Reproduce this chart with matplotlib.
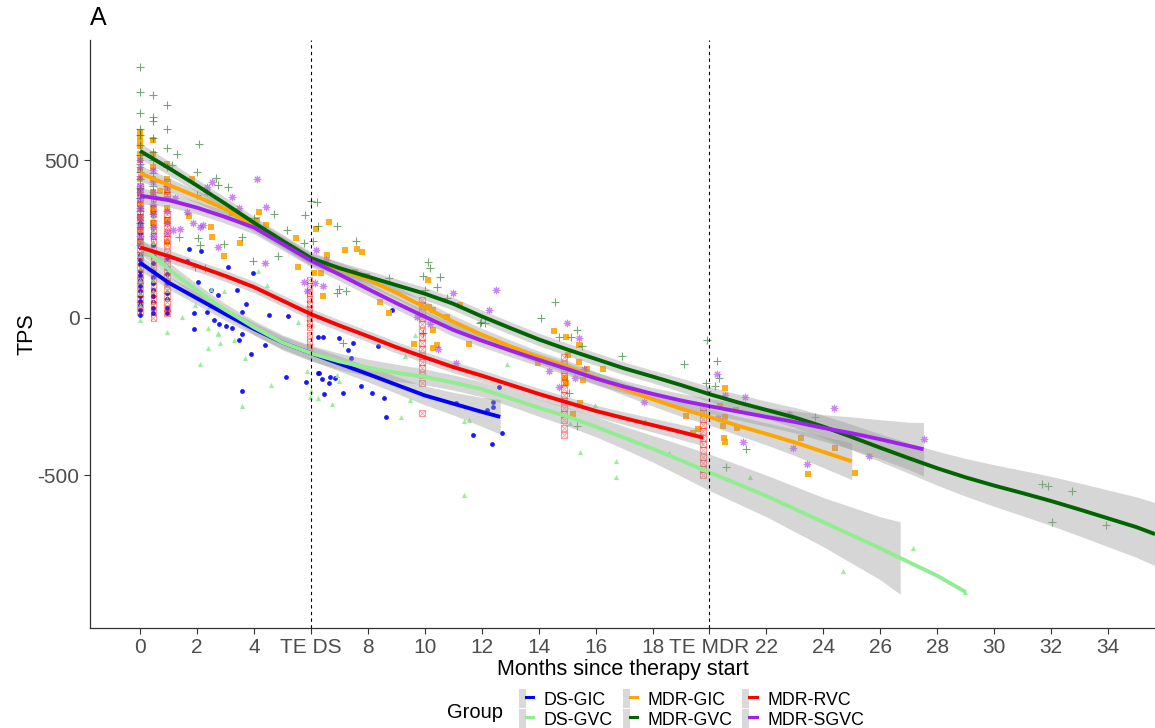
import numpy as np
import matplotlib
matplotlib.use("Agg")
import matplotlib.pyplot as plt
from matplotlib.patches import Patch
from matplotlib.lines import Line2D
from matplotlib.legend_handler import HandlerTuple

plt.rcParams['font.family'] = ['Liberation Sans', 'DejaVu Sans']
plt.rcParams['axes.unicode_minus'] = False

groups = ["DS-GIC", "DS-GVC", "MDR-GIC", "MDR-GVC", "MDR-RVC", "MDR-SGVC"]
colors = ["#0000FF", "#90EE90", "#FFA500", "#006400", "#FF0000", "#A020F0"]

# --- observations: repeated visits (month -> TPS values) + scattered points ---
ds_gic_visits = {0: [300, 270, 250, 225, 200, 185, 170, 150, 135, 120, 100, 85, 70, 55, 40, 25, 10],
                 0.47: [230, 200, 175, 150, 130, 110, 90, 70, 50, 30, 15],
                 0.93: [190, 160, 140, 110, 80, 60, 30, 15]}
ds_gic_month = [1.70, 2.14, 1.64, 3.10, 2.03, 2.49, 3.40, 3.95, 2.73, 3.72, 3.57, 4.53, 5.21, 1.91, 2.34,
                2.58, 2.77, 3.01, 3.24, 3.49, 1.91, 3.57, 4.39, 3.89, 5.14, 3.57, 5.82, 6.24, 6.45, 6.26,
                8.86, 6.44, 6.97, 7.49, 7.32, 7.41, 8.34, 6.27, 6.38, 6.67, 6.83, 6.62, 7.14, 7.76, 8.14,
                8.57, 8.64, 11.1, 12.18, 11.7, 12.35, 12.7, 12.59, 12.41, 12.41]
ds_gic_tps = [218, 211, 181, 163, 115, 89, 89, 144, 73, 43, 20, 10, 6, 15, 20,
              -8, -19, -25, -33, -70, -36, -51, -86, -114, -186, -231, -202, -176, -242, -59,
              25, -61, -65, -80, -102, -128, -89, -176, -195, -188, -191, -207, -237, -216, -237,
              -255, -313, -271, -292, -371, -401, -364, -220, -266, -282]

ds_gvc_visits = {0: [350, 300, 260, 230, 200, 160, 120, 80, 40, -5],
                 0.47: [320, 280, 240, 200, 160, 120, 85, 50],
                 0.93: [250, 200, 130, 90, 60, -45]}
ds_gvc_month = [1.46, 2.49, 2.96, 2.46, 1.93, 2.75, 2.38, 2.11, 2.38, 3.31, 3.69, 3.57, 4.6, 5.85, 5.97,
                6.24, 4.45, 4.13, 5.54, 2.72, 2.79, 5.99, 6.73, 6.97, 6.91, 9.16, 9.48, 9.66, 11.36,
                11.38, 11.57, 12.88, 9.31, 15.45, 16.72, 16.72, 18.59, 15.1, 15.98, 17.74, 21.43,
                24.7, 27.14, 28.98]
ds_gvc_tps = [4, 91, 86, 38, 41, -49, -33, -146, -96, -70, -128, -279, -213, -170, -252,
              -255, 105, 150, -12, -51, -78, -231, -273, -199, -181, -315, -260, -54, -562,
              -326, -324, -146, -121, -424, -454, -506, -428, -332, -276, -327, -504,
              -803, -731, -870]

mdr_gic_visits = {0: [590, 575, 560, 545, 520, 500, 470, 440, 400, 360, 320, 280, 240],
                  0.47: [565, 520, 480, 440, 400, 350, 335, 300],
                  0.93: [490, 440, 400, 350, 310, 240]}
mdr_gic_month = [1.81, 0.7, 1.7, 2.49, 2.54, 3.22, 4.19, 4.10, 4.42, 3.51, 2.96, 5.47, 5.54, 6.65, 6.18,
                 7.2, 7.61, 7.79, 6.58, 6.35, 6.44, 6.11, 7.55, 7.96, 8.43, 8.75, 10.13, 10.16, 10.3,
                 10.28, 10.42, 10.3, 9.62, 10.77, 11.22, 11.57, 14.54, 14.96, 15.04, 15.43, 13.99,
                 15.69, 16.27, 14.92, 14.96, 15.45, 15.2, 15.55, 15.4, 20.55, 20.37, 20.55, 20.49,
                 20.95, 20.93, 20.51, 20.55, 19.58, 19.41, 19.18, 23.23, 24.41, 23.47, 25.11]
mdr_gic_tps = [441, 403, 322, 288, 258, 334, 337, 311, 295, 237, 197, 253, 163, 306, 282,
               214, 218, 210, 200, 142, 70, 142, 147, 133, 52, 15, 121, 36, 25,
               -38, -86, -96, -83, 4, 41, -83, -43, -59, -117, -139, -144,
               -163, -163, -191, -205, -269, -305, -197, -86, -221, -279, -315, -343,
               -350, -292, -382, -393, -354, -364, -311, -382, -414, -495, -491]

mdr_gvc_visits = {0: [795, 716, 650, 600, 581, 550, 517, 490, 464, 440, 411, 380, 340, 300],
                  0.47: [706, 639, 625, 570, 528, 500, 460, 420, 380],
                  0.93: [676, 600, 540, 480, 420]}
mdr_gvc_month = [2.07, 1.29, 1.11, 1.99, 2.66, 2.75, 3.1, 1.99, 1.35, 2.05, 2.11, 2.96, 1.93, 2.28, 4.01,
                 3.98, 4.72, 5.17, 4.86, 3.57, 6.0, 6.2, 5.8, 6.26, 6.93, 5.77, 6.09, 7.59, 6.91, 7.24,
                 7.0, 8.76, 10.13, 10.19, 9.93, 10.54, 10.42, 10.0, 10.77, 11.96, 7.14, 9.95, 14.58,
                 14.09, 14.73, 15.36, 15.13, 15.51, 16.92, 15.08, 15.34, 11.94, 12.12, 19.93, 19.09,
                 20.28, 20.35, 19.88, 20.2, 19.93, 23.71, 21.28, 20.58, 31.69, 31.88, 32.75, 32.04, 33.92]
mdr_gvc_tps = [551, 519, 486, 464, 445, 422, 417, 390, 258, 253, 232, 234, 163, 158, 316,
               181, 329, 279, 195, 258, 372, 369, 327, 292, 292, 239, 243, 243, 80, 84,
               91, 126, 176, 158, 133, 129, 97, 90, 62, -12, -81, -47, 49,
               -1, -59, -38, -62, -89, -121, -239, -343, -15, -15, -70, -146,
               -136, -191, -205, -216, -231, -315, -417, -472, -527, -533, -548, -648, -657]

mdr_rvc_visits = {0: [420, 400, 380, 360, 340, 320, 300, 280, 260, 240, 220, 200, 180, 160, 140, 120,
                      100, 80, 60, 40, 20],
                  0.47: [380, 350, 330, 300, 280, 260, 240, 220, 200, 180, 160, 140, 120, 100, 80, 60,
                         40, 20, 0],
                  0.93: [430, 410, 390, 330, 310, 290, 270, 250, 230, 210, 190, 170, 150, 130, 110, 90,
                         70, 50, 30, 16],
                  5.95: [120, 100, 80, 60, 45, 30, 15, 0, -15, -30, -55, -75, -92],
                  9.9: [57, 40, 20, 0, -20, -40, -60, -80, -100, -120, -140, -160, -180, -206, -302],
                  14.9: [-123, -145, -165, -185, -205, -225, -245, -265, -285, -305, -325, -350, -371],
                  19.78: [-282, -300, -320, -340, -360, -380, -400, -420, -440, -460, -480, -498]}
mdr_rvc_month = []
mdr_rvc_tps = []

mdr_sgvc_visits = {0: [500, 480, 450, 420, 401, 380, 350, 320, 290, 260, 230],
                   0.47: [470, 430, 400, 360, 330, 290, 260],
                   0.93: [420, 380, 340, 300, 270]}
mdr_sgvc_month = [2.52, 2.34, 2.34, 4.1, 3.24, 3.48, 4.42, 1.64, 1.87, 2.11, 2.2, 1.4, 1.17, 2.73, 4.37,
                  1.23, 6.18, 6.53, 5.76, 5.88, 6.15, 6.44, 9.71, 10.19, 10.48, 10.98, 11.1, 12.24,
                  12.5, 15.01, 15.4, 14.37, 14.73, 15.28, 15.6, 17.7, 20.28, 20.55, 21.25, 20.31,
                  21.17, 22.81, 22.92, 24.39, 23.44, 25.62, 27.52]
mdr_sgvc_tps = [430, 417, 401, 440, 385, 348, 353, 337, 301, 290, 295, 283, 279, 226, 174,
                380, 214, 184, 115, 87, 110, 102, 4, -19, -99, 80, -144, 25,
                89, -17, -65, -170, -220, -191, -163, -266, -178, -244, -250, -318,
                -393, -305, -412, -287, -464, -438, -384]

# --- smoothed trend per group: months, fit, half-width of band ---
ds_gic_fit_m = [0, 1, 2, 3, 4, 5, 6, 7, 8, 9, 10, 11, 12, 12.65]
ds_gic_fit = [175, 112, 62, 12, -35, -78, -112, -145, -178, -212, -246, -272, -298, -314]
ds_gic_se = [25, 20, 20, 20, 20, 20, 22, 24, 25, 27, 30, 36, 46, 55]

ds_gvc_fit_m = [0, 0.5, 1, 1.5, 2, 2.5, 3, 3.5, 4, 5, 6, 7, 8, 9, 10, 11, 12, 13, 14, 15, 16, 17, 18,
                19, 20, 22, 24, 26, 26.7, 28, 29]
ds_gvc_fit = [228, 192, 155, 120, 88, 55, 25, -2, -30, -78, -112, -138, -158, -174, -187, -205, -226,
              -255, -285, -313, -345, -380, -415, -452, -490, -565, -648, -731, -762, -818, -870]
ds_gvc_se = [25, 24, 23, 22, 20, 20, 20, 20, 22, 24, 25, 26, 27, 27, 25, 24, 24, 25, 27, 30, 32, 36,
             42, 50, 58, 66, 78, 100, 115]

mdr_gic_fit_m = [0, 1, 2, 3, 4, 5, 6, 7, 8, 9, 10, 11, 12, 13, 14, 15, 16, 17, 18, 19, 20, 21, 22, 23,
                 24, 25]
mdr_gic_fit = [459, 422, 385, 345, 293, 241, 186, 156, 122, 80, 34, -12, -53, -90, -125, -155, -190,
               -225, -258, -288, -314, -342, -368, -395, -425, -455]
mdr_gic_se = [25, 22, 20, 20, 20, 20, 20, 20, 20, 20, 20, 20, 20, 20, 20, 20, 20, 20, 22, 24, 26, 30,
              35, 42, 50, 58]

mdr_gvc_fit_m = [0, 1, 2, 3, 4, 5, 6, 7, 8, 9, 10, 11, 12, 13, 14, 15, 16, 17, 18, 19, 20, 21, 22, 23,
                 24, 25, 26, 27, 28, 29, 30, 31, 32, 33, 34, 35, 35.65]
mdr_gvc_fit = [530, 476, 420, 362, 302, 245, 190, 158, 131, 104, 77, 45, 5, -32, -68, -100, -130, -160,
               -186, -213, -242, -268, -292, -316, -345, -378, -412, -445, -477, -506, -532, -556,
               -581, -608, -636, -664, -686]
mdr_gvc_se = [25, 22, 20, 20, 20, 20, 20, 20, 20, 20, 20, 20, 20, 20, 20, 20, 20, 20, 20, 22, 24, 26,
              28, 32, 36, 40, 44, 48, 54, 60, 66, 72, 78, 84, 90, 96, 100]

mdr_rvc_fit_m = [0, 1, 2, 3, 4, 5, 6, 7, 8, 9, 10, 11, 12, 13, 14, 15, 16, 17, 18, 19, 19.78]
mdr_rvc_fit = [224, 196, 165, 133, 98, 55, 12, -24, -58, -93, -125, -156, -183, -212, -241, -268,
               -295, -318, -340, -362, -380]
mdr_rvc_se = [22, 20, 18, 18, 18, 18, 18, 18, 18, 18, 18, 18, 18, 18, 18, 18, 18, 20, 22, 24, 26]

mdr_sgvc_fit_m = [0, 1, 2, 3, 4, 5, 6, 7, 8, 9, 10, 11, 12, 13, 14, 15, 16, 17, 18, 19, 20, 21, 22, 23,
                  24, 25, 26, 27, 27.52]
mdr_sgvc_fit = [388, 374, 350, 320, 287, 235, 182, 138, 92, 47, 4, -38, -72, -103, -133, -162, -192,
                -218, -241, -262, -280, -297, -314, -330, -349, -366, -385, -406, -417]
mdr_sgvc_se = [25, 22, 20, 20, 20, 20, 20, 20, 20, 20, 20, 20, 20, 20, 20, 20, 20, 20, 20, 22, 24, 27,
               30, 35, 42, 52, 62, 75, 85]

tick_pos = list(range(0, 35, 2))
tick_lab = [str(t) for t in tick_pos]
tick_lab[3] = "TE DS"
tick_lab[10] = "TE MDR"
te_lines = [6, 20]

visits = [ds_gic_visits, ds_gvc_visits, mdr_gic_visits, mdr_gvc_visits, mdr_rvc_visits, mdr_sgvc_visits]
months = [ds_gic_month, ds_gvc_month, mdr_gic_month, mdr_gvc_month, mdr_rvc_month, mdr_sgvc_month]
tps = [ds_gic_tps, ds_gvc_tps, mdr_gic_tps, mdr_gvc_tps, mdr_rvc_tps, mdr_sgvc_tps]
fits = [(ds_gic_fit_m, ds_gic_fit, ds_gic_se), (ds_gvc_fit_m, ds_gvc_fit, ds_gvc_se),
        (mdr_gic_fit_m, mdr_gic_fit, mdr_gic_se), (mdr_gvc_fit_m, mdr_gvc_fit, mdr_gvc_se),
        (mdr_rvc_fit_m, mdr_rvc_fit, mdr_rvc_se), (mdr_sgvc_fit_m, mdr_sgvc_fit, mdr_sgvc_se)]

fig = plt.figure(figsize=(11.55, 7.28), dpi=100)
ax = fig.add_axes([90 / 1155, 1 - 628 / 728, 1 - 90 / 1155, (628 - 40) / 728])

for i, g in enumerate(groups):
    xs, ys = [], []
    for m, vals in visits[i].items():
        xs += [m] * len(vals)
        ys += vals
    xs += months[i]
    ys += tps[i]
    c = colors[i]
    if g == "DS-GIC":
        ax.scatter(xs, ys, s=12, marker="o", color=c, alpha=0.9, linewidths=0)
    elif g == "DS-GVC":
        ax.scatter(xs, ys, s=14, marker="^", color=c, alpha=0.9, linewidths=0)
    elif g == "MDR-GIC":
        ax.scatter(xs, ys, s=14, marker="s", color=c, alpha=0.9, linewidths=0)
    elif g == "MDR-GVC":
        ax.scatter(xs, ys, s=28, marker="+", color=c, alpha=0.55, linewidths=0.8)
    elif g == "MDR-RVC":
        ax.scatter(xs, ys, s=18, marker="s", facecolors="none", edgecolors=c, alpha=0.4, linewidths=0.8)
        ax.scatter(xs, ys, s=14, marker="x", color=c, alpha=0.4, linewidths=0.6)
    else:
        ax.scatter(xs, ys, s=22, marker=(8, 2, 0), color=c, alpha=0.55, linewidths=0.8)

for i, g in enumerate(groups):
    fm, fv, se = fits[i]
    n = len(se)
    lo = np.array(fv[:n]) - np.array(se)
    hi = np.array(fv[:n]) + np.array(se)
    ax.fill_between(fm[:n], lo, hi, color="#999999", alpha=0.4, linewidth=0)
    ax.plot(fm, fv, color=colors[i], lw=2.8, solid_capstyle="butt")

for t in te_lines:
    ax.axvline(t, color="black", lw=0.8, ls=(0, (3, 3)))

ax.set_xlim(-1.76, 35.65)
ax.set_ylim(-984, 882)
ax.set_xticks(tick_pos)
ax.set_xticklabels(tick_lab)
ax.set_yticks([-500, 0, 500])
ax.tick_params(labelsize=15, labelcolor="#4D4D4D", color="#333333", length=4, width=0.8)
for s in ["top", "right"]:
    ax.spines[s].set_visible(False)
for s in ["left", "bottom"]:
    ax.spines[s].set_color("#333333")
    ax.spines[s].set_linewidth(0.9)
ax.set_xlabel("Months since therapy start", fontsize=15.5, labelpad=1)
ax.set_ylabel("TPS", fontsize=15.5, labelpad=0)

fig.text(90 / 1155, 1 - 6 / 728, "A", fontsize=18, va="top", ha="left")

handles = [(Patch(facecolor="#D9D9D9", edgecolor="none"), Line2D([], [], color=c, lw=2.2)) for c in colors]
fig.text(447 / 1155, 1 - 712 / 728, "Group", fontsize=14.5, va="center", ha="left")
fig.legend(handles, groups, loc="center left", bbox_to_anchor=(510 / 1155, 1 - 709 / 728),
           ncol=3, frameon=False, fontsize=12.8, handlelength=0.8, handleheight=1.2,
           handletextpad=0.6, labelspacing=0.05, columnspacing=0.55, borderpad=0,
           handler_map={tuple: HandlerTuple(ndivide=None)})

fig.savefig("out.png", dpi=100)
